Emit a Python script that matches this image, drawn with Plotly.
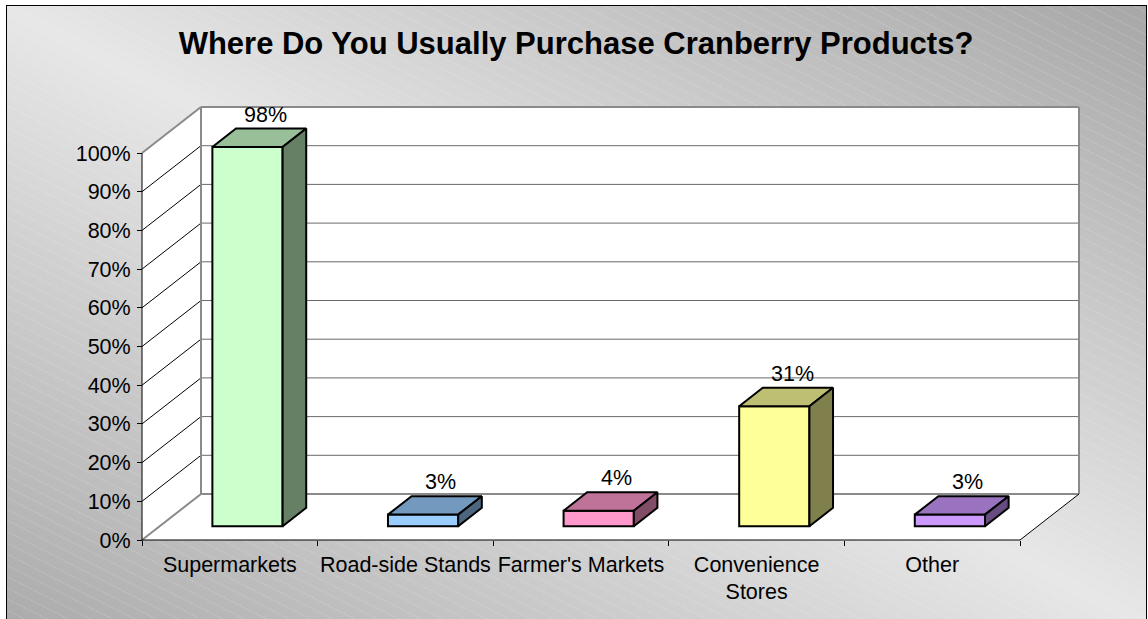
import base64
import plotly.graph_objects as go

# ---- data -------------------------------------------------------------
categories = ["Supermarkets", "Road-side Stands", "Farmer's Markets",
              "Convenience Stores", "Other"]
category_labels = ["Supermarkets", "Road-side Stands", "Farmer's Markets",
                   "Convenience<br>Stores", "Other"]
shares = [0.98, 0.03, 0.04, 0.31, 0.03]
value_ticks = [0.0, 0.1, 0.2, 0.3, 0.4, 0.5, 0.6, 0.7, 0.8, 0.9, 1.0]
value_tick_labels = ["0%", "10%", "20%", "30%", "40%", "50%",
                     "60%", "70%", "80%", "90%", "100%"]

# ---- styling ----------------------------------------------------------
bar_colors = ["#CCFFCC", "#99CCFF", "#FF99CC", "#FFFF99", "#CC99FF"]
FONT = "Liberation Sans, Arial, Helvetica, sans-serif"
TITLE = "Where Do You Usually Purchase Cranberry Products?"
TICK_SIZE = 21.5

W, H = 1148, 619
X0_PX, Y0_PX = 142, 540      # front-left floor corner of the 3-D box
UNIT_X = 175.6               # pixels per category slot
UNIT_Y = 387.0               # pixels per 100 %
DX = 59 / UNIT_X             # depth offset of the back wall (x units)
DY = 46 / UNIT_Y             # depth offset of the back wall (y units)
N = len(categories)

BAR_W = 0.4                  # bar width in category units
D_FRONT, D_BACK = 0.3, 0.7   # depth slice occupied by the bars

x_range = [-X0_PX / UNIT_X, (W - X0_PX) / UNIT_X]
y_range = [-(H - Y0_PX) / UNIT_Y, Y0_PX / UNIT_Y]


def shade(hex_color, f):
    h = hex_color.lstrip("#")
    r, g, b = (int(h[i:i + 2], 16) for i in (0, 2, 4))
    return "rgb({},{},{})".format(round(r * f), round(g * f), round(b * f))


def segments(pairs):
    xs, ys = [], []
    for (xa, ya), (xb, yb) in pairs:
        xs += [xa, xb, None]
        ys += [ya, yb, None]
    return xs, ys


# ---- chart background: reflected diagonal gradient with fine hatching ----
svg = f"""<svg xmlns="http://www.w3.org/2000/svg" width="{W}" height="{H}" viewBox="0 0 {W} {H}">
<defs>
<linearGradient id="g" x1="1" y1="0" x2="0" y2="1">
<stop offset="0" stop-color="#a7a7a7"/>
<stop offset="0.5" stop-color="#e7e7e7"/>
<stop offset="1" stop-color="#ababab"/>
</linearGradient>
<pattern id="p" width="12" height="10" patternUnits="userSpaceOnUse" patternTransform="rotate(27)">
<line x1="0" y1="0.5" x2="12" y2="0.5" stroke="#ffffff" stroke-opacity="0.3" stroke-width="0.8" stroke-dasharray="1.5 1.5"/>
</pattern>
</defs>
<rect width="{W}" height="{H}" fill="#ffffff"/>
<rect x="6.5" y="5.5" width="1140" height="620" fill="url(#g)" stroke="#000000" stroke-width="1"/>
<rect x="7" y="6" width="1139" height="613" fill="url(#p)"/>
</svg>"""
bg_uri = "data:image/svg+xml;base64," + base64.b64encode(svg.encode()).decode()

fig = go.Figure()

# ---- walls and floor of the 3-D box ------------------------------------
fig.add_trace(go.Scatter(
    x=[0, 0, DX, N + DX, N + DX, N, 0],
    y=[0, 1, 1 + DY, 1 + DY, DY, 0, 0],
    mode="lines", fill="toself", fillcolor="#ffffff",
    line=dict(width=0), hoverinfo="skip"))

# back-wall gridlines
gx, gy = segments([((DX, v + DY), (N + DX, v + DY)) for v in value_ticks[1:-1]])
fig.add_trace(go.Scatter(x=gx, y=gy, mode="lines",
                         line=dict(color="#6a6a6a", width=1), hoverinfo="skip"))

# side-wall gridlines
sx, sy = segments([((0, v), (DX, v + DY)) for v in value_ticks[1:-1]])
fig.add_trace(go.Scatter(x=sx, y=sy, mode="lines",
                         line=dict(color="#000000", width=1), hoverinfo="skip"))

# grey outline of the walls
ex, ey = segments([
    ((DX, 1 + DY), (N + DX, 1 + DY)),
    ((N + DX, 1 + DY), (N + DX, DY)),
    ((DX, DY), (N + DX, DY)),
    ((DX, DY), (DX, 1 + DY)),
    ((0, 1), (DX, 1 + DY)),
    ((0, 0), (DX, DY)),
])
fig.add_trace(go.Scatter(x=ex, y=ey, mode="lines",
                         line=dict(color="#8a8a8a", width=2), hoverinfo="skip"))

# front axes and floor edge
ax, ay = segments([
    ((0, 0), (0, 1)),
    ((0, 0), (N, 0)),
    ((N, 0), (N + DX, DY)),
])
fig.add_trace(go.Scatter(x=ax, y=ay, mode="lines",
                         line=dict(color="#000000", width=1), hoverinfo="skip"))

# ---- bars ---------------------------------------------------------------
centers = [i + 0.5 for i in range(N)]
front_x = [c + D_FRONT * DX for c in centers]
fig.add_trace(go.Bar(
    x=front_x, y=shares, base=D_FRONT * DY, width=BAR_W,
    marker=dict(color=bar_colors, line=dict(color="#000000", width=2)),
    xaxis="x2", yaxis="y2", hoverinfo="skip"))

ddx = (D_BACK - D_FRONT) * DX
ddy = (D_BACK - D_FRONT) * DY
for fx, v, col in zip(front_x, shares, bar_colors):
    x0, x1 = fx - BAR_W / 2, fx + BAR_W / 2
    yb, yt = D_FRONT * DY, v + D_FRONT * DY
    # top face
    fig.add_trace(go.Scatter(
        x=[x0, x1, x1 + ddx, x0 + ddx, x0],
        y=[yt, yt, yt + ddy, yt + ddy, yt],
        mode="lines", fill="toself", fillcolor=shade(col, 0.75),
        line=dict(color="#000000", width=2), xaxis="x2", yaxis="y2",
        hoverinfo="skip"))
    # side face
    fig.add_trace(go.Scatter(
        x=[x1, x1 + ddx, x1 + ddx, x1, x1],
        y=[yb, yb + ddy, yt + ddy, yt, yb],
        mode="lines", fill="toself", fillcolor=shade(col, 0.5),
        line=dict(color="#000000", width=2), xaxis="x2", yaxis="y2",
        hoverinfo="skip"))

annotations = []
for c, v in zip(centers, shares):
    annotations.append(dict(
        x=c + 0.6 * DX, y=v + D_BACK * DY, xref="x2", yref="y2",
        text=f"{round(v * 100)}%", showarrow=False,
        xanchor="center", yanchor="bottom",
        font=dict(family=FONT, size=TICK_SIZE, color="#000000")))

fig.update_layout(
    width=W, height=H,
    margin=dict(l=0, r=0, t=0, b=0, pad=0),
    paper_bgcolor="#ffffff",
    plot_bgcolor="rgba(0,0,0,0)",
    showlegend=False,
    font=dict(family=FONT, size=TICK_SIZE, color="#000000"),
    title=dict(text=f"<b>{TITLE}</b>", x=576 / W, xanchor="center",
               y=1 - 43 / H, yref="container", yanchor="middle",
               font=dict(family=FONT, size=31, color="#000000")),
    images=[dict(source=bg_uri, xref="paper", yref="paper", x=0, y=1,
                 sizex=1, sizey=1, xanchor="left", yanchor="top",
                 sizing="stretch", layer="below")],
    xaxis=dict(range=x_range, domain=[0, 1], anchor="free",
               position=(H - Y0_PX) / H,
               tickmode="array", tickvals=centers, ticktext=category_labels,
               ticks="", ticklabelstandoff=9,
               showgrid=False, zeroline=False, showline=False,
               minor=dict(tickmode="array", tickvals=list(range(N + 1)),
                          ticks="outside", ticklen=5, tickwidth=1,
                          tickcolor="#000000", showgrid=False),
               tickfont=dict(family=FONT, size=TICK_SIZE, color="#000000"),
               fixedrange=True),
    yaxis=dict(range=y_range, domain=[0, 1], anchor="free",
               position=X0_PX / W,
               tickmode="array", tickvals=value_ticks,
               ticktext=value_tick_labels,
               ticks="outside", ticklen=5, tickwidth=1, tickcolor="#000000",
               ticklabelstandoff=2,
               showgrid=False, zeroline=False, showline=False,
               tickfont=dict(family=FONT, size=TICK_SIZE, color="#000000"),
               fixedrange=True),
    xaxis2=dict(range=x_range, overlaying="x", anchor="y2", visible=False,
                fixedrange=True),
    yaxis2=dict(range=y_range, overlaying="y", anchor="x2", visible=False,
                fixedrange=True),
    annotations=annotations,
)

fig.write_html("out.html", config={"displayModeBar": False})
